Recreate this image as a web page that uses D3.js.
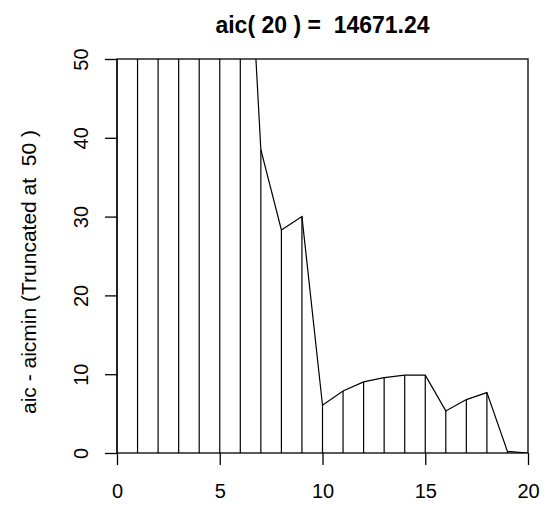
<!DOCTYPE html>
<html>
<head>
<meta charset="utf-8">
<script src="https://cdn.jsdelivr.net/npm/d3@7/dist/d3.min.js"></script>
<style>
  html, body { margin: 0; padding: 0; background: #fff; }
  svg { display: block; font-family: "Liberation Sans", Arial, sans-serif; }
  svg text { white-space: pre; }
</style>
</head>
<body>
<svg id="chart" width="551" height="505"></svg>
<script>
// AIC differences by model order (aic - aicmin); values above the cap are clipped
const orders = [0, 1, 2, 3, 4, 5, 6, 7, 8, 9, 10, 11, 12, 13, 14, 15, 16, 17, 18, 19, 20];
const aicDiff = [612.3, 455.8, 318.4, 241.9, 176.5, 122.7, 86.4, 38.5, 28.3, 30.0,
                 6.06, 7.88, 9.02, 9.57, 9.87, 9.87, 5.34, 6.78, 7.67, 0.2, 0.0];
const truncateAt = 50;
const xTicks = [0, 5, 10, 15, 20];
const yTicks = [0, 10, 20, 30, 40, 50];
const titleText = "aic( 20 ) =  14671.24";
const yLabelText = "aic - aicmin (Truncated at  50 )";

const svg = d3.select("#chart");
const plot = { left: 117, right: 528, top: 59, bottom: 453 };

const x = d3.scaleLinear().domain([0, 20]).range([plot.left, plot.right]);
const y = d3.scaleLinear().domain([0, truncateAt]).range([plot.bottom, plot.top]);

const points = orders.map((o, i) => ({ order: o, value: aicDiff[i] }));

// clip region for the connecting line
svg.append("clipPath").attr("id", "plotClip")
  .append("rect")
  .attr("x", plot.left).attr("y", plot.top)
  .attr("width", plot.right - plot.left).attr("height", plot.bottom - plot.top);

// vertical bars, capped at the truncation level
svg.append("g")
  .selectAll("line")
  .data(points)
  .join("line")
  .attr("x1", d => x(d.order)).attr("x2", d => x(d.order))
  .attr("y1", y(0))
  .attr("y2", d => y(Math.min(d.value, truncateAt)))
  .attr("stroke", "#000")
  .attr("stroke-width", 1.2);

// line through the points
svg.append("path")
  .datum(points)
  .attr("clip-path", "url(#plotClip)")
  .attr("fill", "none")
  .attr("stroke", "#000")
  .attr("stroke-width", 1.2)
  .attr("d", d3.line().x(d => x(d.order)).y(d => y(d.value)));

// frame
svg.append("rect")
  .attr("x", plot.left).attr("y", plot.top)
  .attr("width", plot.right - plot.left).attr("height", plot.bottom - plot.top)
  .attr("fill", "none").attr("stroke", "#000").attr("stroke-width", 1.3);

// bottom axis
const xAxis = svg.append("g")
  .attr("transform", `translate(0,${plot.bottom})`)
  .call(d3.axisBottom(x).tickValues(xTicks).tickSize(12).tickPadding(19).tickFormat(d3.format("d")));
xAxis.select(".domain").remove();
xAxis.selectAll(".tick line").attr("stroke", "#000").attr("stroke-width", 1.3);
xAxis.selectAll(".tick text")
  .attr("fill", "#000").attr("font-size", 20)
  .attr("font-family", "Liberation Sans, Arial, sans-serif");

// left axis, labels rotated parallel to the axis
const yAxis = svg.append("g")
  .attr("transform", `translate(${plot.left},0)`)
  .call(d3.axisLeft(y).tickValues(yTicks).tickSize(12).tickFormat(d3.format("d")));
yAxis.select(".domain").remove();
yAxis.selectAll(".tick line").attr("stroke", "#000").attr("stroke-width", 1.3);
yAxis.selectAll(".tick text")
  .attr("fill", "#000").attr("font-size", 20)
  .attr("font-family", "Liberation Sans, Arial, sans-serif")
  .attr("x", null).attr("dy", null)
  .attr("text-anchor", "middle")
  .attr("transform", `translate(-29,0) rotate(-90)`);

// title
svg.append("text")
  .attr("x", (plot.left + plot.right) / 2)
  .attr("y", 33)
  .attr("text-anchor", "middle")
  .attr("font-size", 23)
  .attr("font-weight", "bold")
  .attr("fill", "#000")
  .text(titleText);

// y-axis title
svg.append("text")
  .attr("transform", "translate(36,272) rotate(-90)")
  .attr("text-anchor", "middle")
  .attr("font-size", 21)
  .attr("fill", "#000")
  .text(yLabelText);
</script>
</body>
</html>
